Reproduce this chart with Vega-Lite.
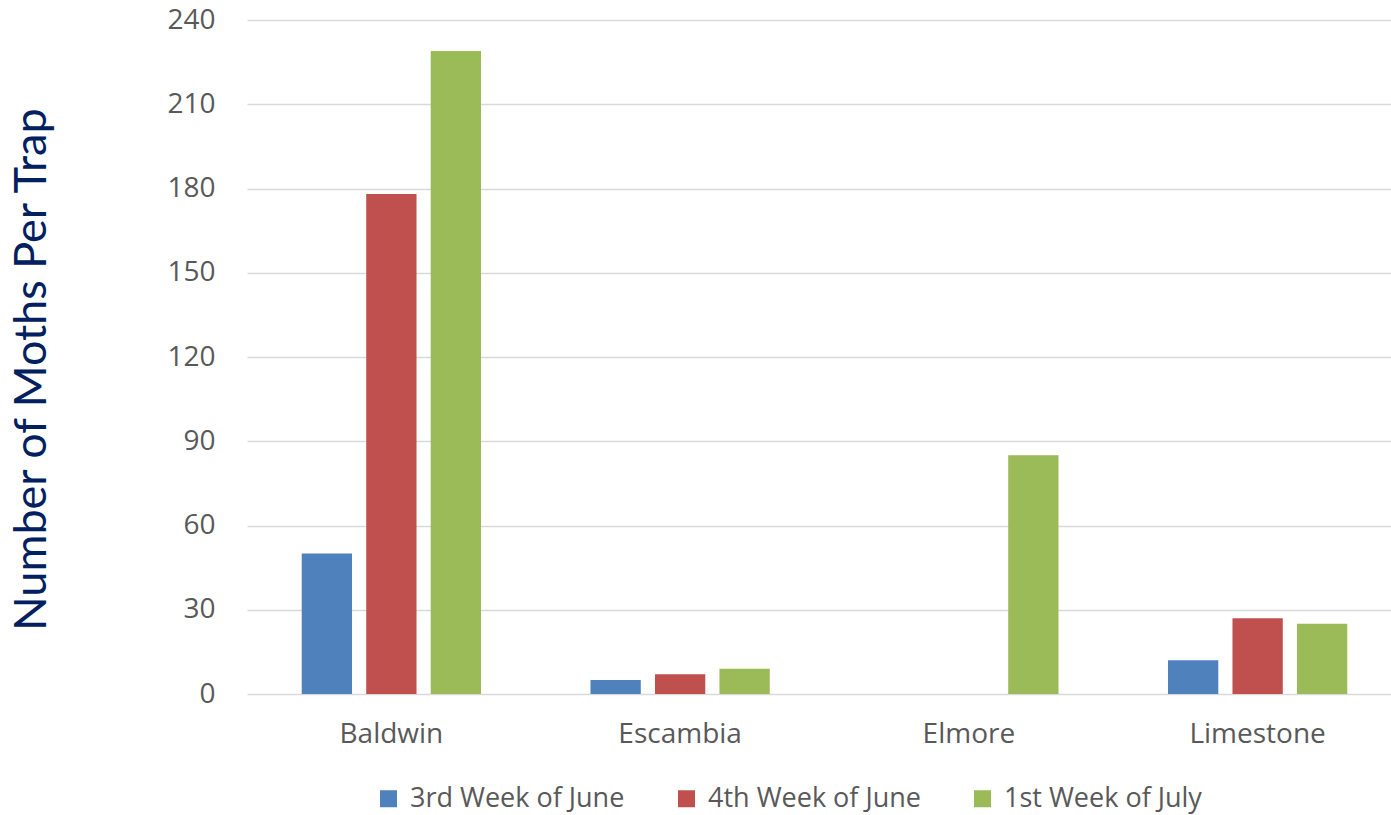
{
  "$schema": "https://vega.github.io/schema/vega-lite/v6.json",
  "autosize": "none",
  "width": 1145,
  "height": 674,
  "padding": {"left": 246, "top": 20, "right": 0, "bottom": 121},
  "background": "white",
  "data": {
    "values": [
      {"county": "Baldwin", "week": "3rd Week of June", "moths": 50},
      {"county": "Baldwin", "week": "4th Week of June", "moths": 178},
      {"county": "Baldwin", "week": "1st Week of July", "moths": 229},
      {"county": "Escambia", "week": "3rd Week of June", "moths": 5},
      {"county": "Escambia", "week": "4th Week of June", "moths": 7},
      {"county": "Escambia", "week": "1st Week of July", "moths": 9},
      {"county": "Elmore", "week": "3rd Week of June", "moths": 0},
      {"county": "Elmore", "week": "4th Week of June", "moths": 0},
      {"county": "Elmore", "week": "1st Week of July", "moths": 85},
      {"county": "Limestone", "week": "3rd Week of June", "moths": 12},
      {"county": "Limestone", "week": "4th Week of June", "moths": 27},
      {"county": "Limestone", "week": "1st Week of July", "moths": 25}
    ]
  },
  "mark": {"type": "bar"},
  "encoding": {
    "x": {
      "field": "county",
      "type": "nominal",
      "sort": null,
      "scale": {"paddingInner": 0.33, "paddingOuter": 0.165, "range": [1, 1156]},
      "axis": {
        "title": null,
        "labelAngle": 0,
        "labelFont": "Open Sans",
        "labelFontSize": 28,
        "labelColor": "#595959",
        "labelPadding": 26,
        "ticks": false,
        "domain": false
      }
    },
    "xOffset": {
      "field": "week",
      "type": "nominal",
      "sort": ["3rd Week of June", "4th Week of June", "1st Week of July"],
      "scale": {"paddingInner": 0.22, "paddingOuter": 0.11}
    },
    "y": {
      "field": "moths",
      "type": "quantitative",
      "scale": {"domain": [0, 240], "nice": false},
      "axis": {
        "title": "Number of Moths Per Trap",
        "titleFont": "Lato",
        "titleFontSize": 45,
        "titleFontWeight": "normal",
        "titleColor": "#002060",
        "titlePadding": 112,
        "titleY": 349,
        "values": [0, 30, 60, 90, 120, 150, 180, 210, 240],
        "labelFont": "Open Sans",
        "labelFontSize": 28,
        "labelColor": "#595959",
        "labelPadding": 31,
        "ticks": false,
        "domain": false,
        "gridColor": "#d9d9d9",
        "gridWidth": 1.5
      }
    },
    "color": {
      "field": "week",
      "type": "nominal",
      "sort": ["3rd Week of June", "4th Week of June", "1st Week of July"],
      "scale": {
        "domain": ["3rd Week of June", "4th Week of June", "1st Week of July"],
        "range": ["#4F81BD", "#C0504D", "#9BBB59"]
      },
      "legend": {
        "title": null,
        "orient": "none",
        "direction": "horizontal",
        "legendX": 129,
        "legendY": 765,
        "symbolType": "square",
        "symbolSize": 289,
        "symbolStrokeWidth": 0,
        "labelFont": "Open Sans",
        "labelFontSize": 27,
        "labelColor": "#595959",
        "labelOffset": 8,
        "labelLimit": 0,
        "columnPadding": 48
      }
    }
  },
  "config": {
    "view": {"stroke": null}
  }
}
